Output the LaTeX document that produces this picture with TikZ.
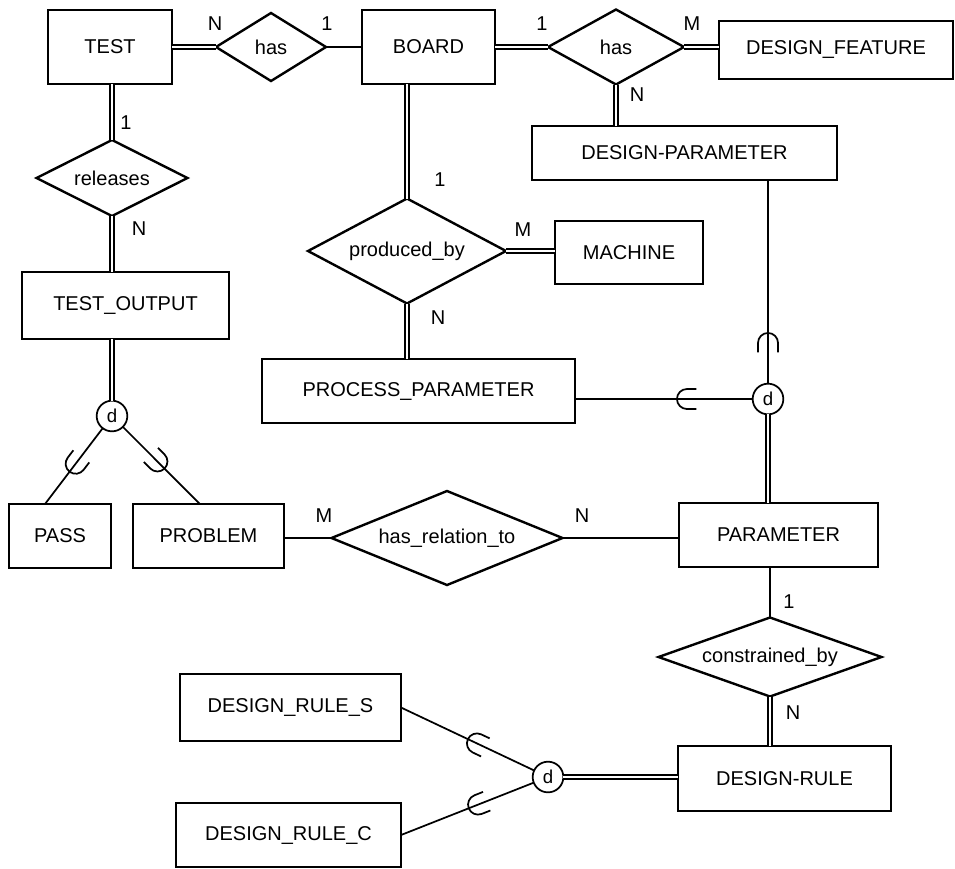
\documentclass[tikz,border=0pt]{standalone}
\usepackage{fontspec}
\setmainfont{Liberation Sans}
\usetikzlibrary{shapes.geometric,decorations.markings}
\begin{document}
\begin{tikzpicture}[x=0.75pt,y=-0.75pt,
  every node/.style={font=\fontsize{15}{18}\selectfont},
  entity/.style 2 args={draw, rectangle, line width=1.3pt, inner sep=0pt, outer sep=0pt,
    minimum width=#1*0.75pt, minimum height=#2*0.75pt},
  rel/.style n args={3}{draw, diamond, line width=1.8pt, aspect=#3, inner sep=0pt, outer sep=0pt,
    minimum width=#1*0.75pt, minimum height=#2*0.75pt},
  dcirc/.style={draw, circle, line width=1.3pt, inner sep=0pt, outer sep=0pt,
    minimum size=23pt, font=\fontsize{14}{16}\selectfont},
  lab/.style={inner sep=0pt},
  single/.style={line width=1.3pt},
  dbl/.style={line width=1pt, double, double distance=2.2pt},
  subset/.style={postaction={decorate, decoration={markings,
    mark=at position #1 with {\draw[line width=1.3pt]
      (-7pt,7.5pt) -- (0pt,7.5pt) arc[start angle=90, end angle=-90, radius=7.5pt] -- (-7pt,-7.5pt);}}}}
]
\useasboundingbox (0,0) rectangle (955,868);

% entities, relationships and specialisation circles
\node[entity={124}{74}] (test) at (110,47) {TEST};
\node[rel={110}{68}{1.62}] (has1) at (271,47) {has};
\node[entity={133}{74}] (board) at (428.5,47) {BOARD};
\node[rel={136}{75}{1.81}] (has2) at (616,47) {has};
\node[entity={234}{58}] (dfeat) at (836,50) {DESIGN\_FEATURE};
\node[entity={305}{54}] (dpar) at (684.5,153) {DESIGN-PARAMETER};
\node[rel={151}{76}{1.99}] (rels) at (112,178) {releases};
\node[entity={207}{67}] (tout) at (125.5,305.5) {TEST\_OUTPUT};
\node[rel={198}{105}{1.886}] (prod) at (407,251) {produced\_by};
\node[entity={148}{63}] (mach) at (629,252.5) {MACHINE};
\node[entity={313}{64}] (ppar) at (418.5,391) {PROCESS\_PARAMETER};
\node[dcirc] (d2) at (768,399) {d};
\node[dcirc] (d1) at (112,416) {d};
\node[entity={102}{64}] (pass) at (60,536) {PASS};
\node[entity={151}{64}] (prob) at (208.5,536) {PROBLEM};
\node[rel={231}{94}{2.457}] (hrel) at (447,538) {has\_relation\_to};
\node[entity={199}{64}] (par) at (778.5,535) {PARAMETER};
\node[rel={223}{79}{2.823}] (cons) at (770,657) {constrained\_by};
\node[entity={221}{67}] (drs) at (290.5,707.5) {DESIGN\_RULE\_S};
\node[entity={225}{64}] (drc) at (288.5,835) {DESIGN\_RULE\_C};
\node[dcirc] (d3) at (548,777) {d};
\node[entity={213}{65}] (drule) at (784.5,778.5) {DESIGN-RULE};

% relationship links
\draw[dbl] (has1.west -| test.east) -- (has1.west);
\draw[single] (has1.east) -- (has1.east -| board.west);
\draw[dbl] (has2.west -| board.east) -- (has2.west);
\draw[dbl] (has2.east) -- (has2.east -| dfeat.west);
\draw[dbl] (has2.south) -- (has2.south |- dpar.north);
\draw[dbl] (rels.north |- test.south) -- (rels.north);
\draw[dbl] (rels.south) -- (rels.south |- tout.north);
\draw[dbl] (prod.north |- board.south) -- (prod.north);
\draw[dbl] (prod.east) -- (prod.east -| mach.west);
\draw[dbl] (prod.south) -- (prod.south |- ppar.north);
\draw[single] (hrel.west) -- (hrel.west -| prob.east);
\draw[single] (hrel.east) -- (hrel.east -| par.west);
\draw[single] (cons.north) -- (cons.north |- par.south);
\draw[dbl] (cons.south) -- (cons.south |- drule.north);

% specialisations
\draw[dbl] (d1.north |- tout.south) -- (d1.north);
\draw[single, subset=0.47] (d1) -- ([xshift=-11.25pt]pass.north);
\draw[single, subset=0.45] (d1) -- ([xshift=-6.4pt]prob.north);
\draw[single, subset=0.2] (d2.north) -- (d2.north |- dpar.south);
\draw[single, subset=0.37] (d2.west) -- (d2.west -| ppar.east);
\draw[dbl] (d2.south) -- (d2.south |- par.north);
\draw[dbl] (d3.east) -- (d3.east -| drule.west);
\draw[single, subset=0.43] (d3) -- (drs.east);
\draw[single, subset=0.42] (d3) -- (drc.east);

% cardinalities
\node[lab] (c1) at (215,24) {N};
\node[lab] (c2) at (327,24) {1};
\node[lab] (c3) at (542,24) {1};
\node[lab] (c4) at (692,24) {M};
\node[lab] (c5) at (637,95) {N};
\node[lab] (c6) at (126,123) {1};
\node[lab] (c7) at (139,229) {N};
\node[lab] (c8) at (440,180) {1};
\node[lab] (c9) at (523,230) {M};
\node[lab] (c10) at (438,318) {N};
\node[lab] (c11) at (324,516) {M};
\node[lab] (c12) at (582,516) {N};
\node[lab] (c13) at (789,602) {1};
\node[lab] (c14) at (793,713) {N};
\end{tikzpicture}
\end{document}
